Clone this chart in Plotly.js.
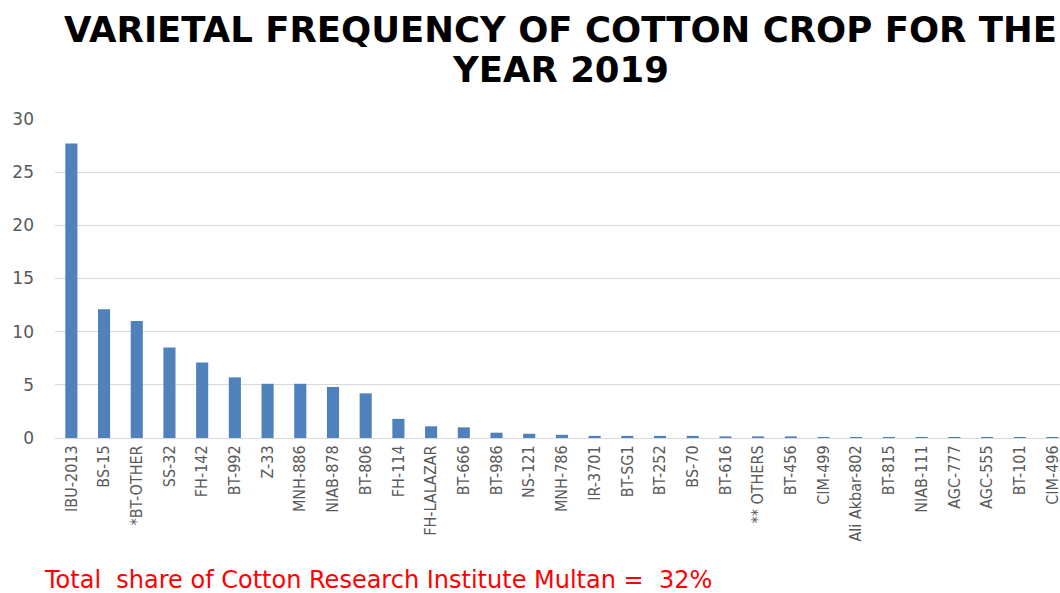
<!DOCTYPE html>
<html>
<head>
<meta charset="utf-8">
<script src="https://cdn.plot.ly/plotly-3.0.1.min.js"></script>
<style>html,body{margin:0;padding:0;background:#fff;overflow:hidden}#chart{width:1060px;height:593px}</style>
</head>
<body>
<div id="chart"></div>
<script>
const varieties = ["IBU-2013","BS-15","*BT-OTHER","SS-32","FH-142","BT-992","Z-33","MNH-886","NIAB-878","BT-806","FH-114","FH-LALAZAR","BT-666","BT-986","NS-121","MNH-786","IR-3701","BT-SG1","BT-252","BS-70","BT-616","** OTHERS","BT-456","CIM-499","Ali Akbar-802","BT-815","NIAB-111","AGC-777","AGC-555","BT-101","CIM-496"];
const frequency = [27.7,12.1,11.0,8.5,7.1,5.7,5.1,5.1,4.8,4.2,1.8,1.1,1.0,0.5,0.4,0.3,0.2,0.2,0.2,0.2,0.15,0.15,0.15,0.1,0.1,0.1,0.1,0.1,0.1,0.1,0.1];
const yTicks = [0,5,10,15,20,25,30];
const titleLine1 = "VARIETAL FREQUENCY OF COTTON CROP FOR THE";
const titleLine2 = "YEAR 2019";
const footerText = "Total\u00A0 share of Cotton Research Institute Multan =\u00A0 32%";

const trace = {
  type: "bar",
  x: varieties,
  y: frequency,
  marker: {color: "#4f81bd"},
  hoverinfo: "x+y"
};

const titleFont = {family: "DejaVu Sans, sans-serif", size: 35.5, color: "#000000", weight: "bold"};

const layout = {
  width: 1060,
  height: 593,
  margin: {l: 55, r: 0, t: 119, b: 155},
  paper_bgcolor: "#ffffff",
  plot_bgcolor: "#ffffff",
  bargap: 0.63,
  showlegend: false,
  xaxis: {
    type: "category",
    range: [-0.5, 30.23],
    tickangle: -90,
    tickfont: {family: "DejaVu Sans Condensed, Liberation Sans, sans-serif", size: 16, color: "#595959"},
    showgrid: false,
    showline: true,
    linecolor: "#d9d9d9",
    linewidth: 1,
    ticks: "",
    automargin: false,
    fixedrange: true
  },
  yaxis: {
    range: [0, 30],
    tickvals: yTicks,
    ticktext: yTicks.map(String),
    tickfont: {family: "DejaVu Sans, sans-serif", size: 17, color: "#595959"},
    showgrid: true,
    gridcolor: "#d9d9d9",
    gridwidth: 1,
    zeroline: false,
    showline: false,
    ticks: "",
    ticklabelstandoff: 20,
    automargin: false,
    fixedrange: true
  },
  annotations: [
    {
      text: titleLine1, xref: "paper", yref: "paper",
      x: 0.5025, y: 1.279, xanchor: "center", yanchor: "middle",
      showarrow: false, font: titleFont
    },
    {
      text: titleLine2, xref: "paper", yref: "paper",
      x: 0.5025, y: 1.154, xanchor: "center", yanchor: "middle",
      showarrow: false, font: titleFont
    },
    {
      text: footerText,
      xref: "paper", yref: "paper",
      x: -0.013, y: -0.496,
      xanchor: "left", yanchor: "bottom",
      showarrow: false,
      font: {family: "DejaVu Sans, sans-serif", size: 24, color: "#ff0000"}
    }
  ]
};

Plotly.newPlot("chart", [trace], layout, {displayModeBar: false, staticPlot: true});
</script>
</body>
</html>
